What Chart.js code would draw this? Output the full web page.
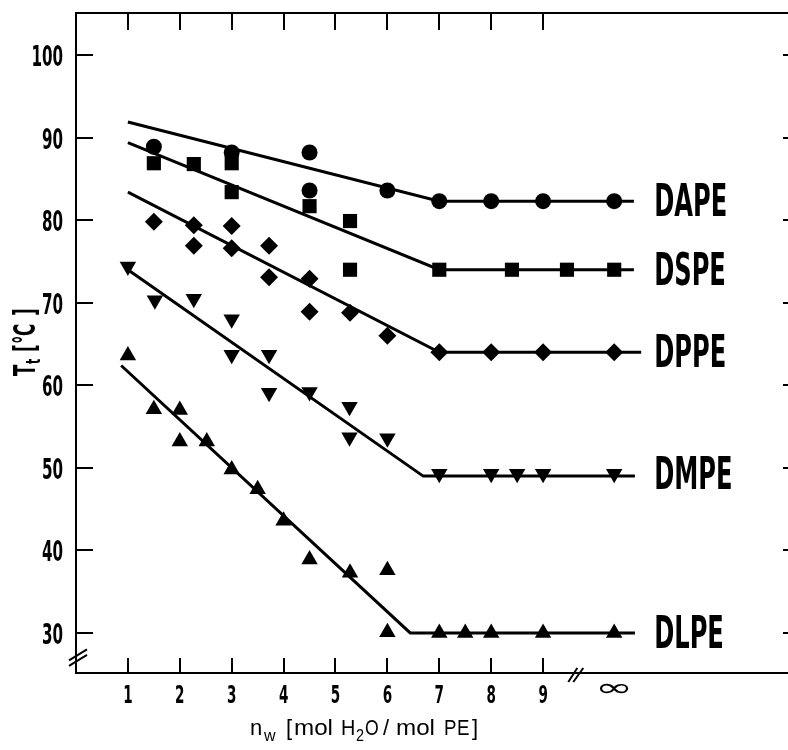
<!DOCTYPE html>
<html>
<head>
<meta charset="utf-8">
<script src="https://cdn.jsdelivr.net/npm/chart.js@4.4.0/dist/chart.umd.min.js"></script>
<style>
  html, body { margin: 0; padding: 0; overflow: hidden; background: #fff; }
  /* the original figure is cropped on the right: its right frame sits just past the edge */
  #wrap { width: 788px; height: 750px; overflow: hidden; }
</style>
</head>
<body>
<div id="wrap"><canvas id="chart" width="804" height="750"></canvas></div>
<script>
// tick positions
const X_TICKS = [1, 2, 3, 4, 5, 6, 7, 8, 9];
const Y_TICKS = [30, 40, 50, 60, 70, 80, 90, 100];
const INF = 10.37;          // where the "infinity" column sits
const X_BREAK = 9.63;       // axis break between 9 and infinity
const Y_BREAK = 26.9;       // axis break below 30

const dapeX = [1.5, 3, 4.5, 4.5, 6, 7, 8, 9, INF];
const dapeY = [88.9, 88.2, 88.2, 83.6, 83.6, 82.3, 82.3, 82.3, 82.3];
const dapeFitX = [1, 7, 10.75];
const dapeFitY = [91.9, 82.3, 82.3];

const dspeX = [1.5, 2.27, 3, 3, 4.5, 5.28, 5.28, 7, 8.4, 9.46, INF];
const dspeY = [86.9, 86.8, 86.9, 83.4, 81.7, 79.9, 74.0, 74.0, 74.0, 74.0, 74.0];
const dspeFitX = [1, 7, 10.75];
const dspeFitY = [89.4, 74.0, 74.0];

const dppeX = [1.5, 2.27, 2.27, 3, 3, 3.72, 3.72, 4.5, 4.5, 5.28, 6, 7, 8, 9, INF];
const dppeY = [79.8, 79.4, 76.9, 79.3, 76.6, 76.9, 73.1, 72.9, 68.9, 68.8, 66.0, 64.0, 64.0, 64.0, 64.0];
const dppeFitX = [1, 7, 10.89];
const dppeFitY = [83.4, 64.0, 64.0];

const dmpeX = [1, 1.52, 2.27, 3, 3, 3.72, 3.72, 4.5, 5.27, 5.27, 6, 7, 8, 8.5, 9, INF];
const dmpeY = [74.4, 70.3, 70.5, 68.0, 63.7, 63.7, 59.1, 59.2, 57.4, 53.7, 53.6, 49.3, 49.3, 49.3, 49.3, 49.3];
const dmpeFitX = [1, 6.69, 10.77];
const dmpeFitY = [74.0, 49.0, 49.0];

const dlpeX = [1, 1.5, 2, 2, 2.52, 3, 3.5, 4, 4.5, 5.28, 6, 6, 7, 7.5, 8, 9, INF];
const dlpeY = [63.6, 57.1, 57.0, 53.2, 53.2, 49.8, 47.4, 43.6, 38.9, 37.3, 37.6, 30.1, 30.0, 30.0, 30.0, 30.0, 30.0];
const dlpeFitX = [0.87, 6.44, 10.77];
const dlpeFitY = [62.4, 30.0, 30.0];

const LABEL_X = 11.14;   // left edge of the series names

const series = [
    { name: 'DAPE', x: dapeX, y: dapeY, fx: dapeFitX, fy: dapeFitY, style: 'circle', r: 8, rot: 0 },
    { name: 'DSPE', x: dspeX, y: dspeY, fx: dspeFitX, fy: dspeFitY, style: 'rect', r: 10, rot: 0 },
    { name: 'DPPE', x: dppeX, y: dppeY, fx: dppeFitX, fy: dppeFitY, style: 'rectRot', r: 9, rot: 0 },
    { name: 'DMPE', x: dmpeX, y: dmpeY, fx: dmpeFitX, fy: dmpeFitY, style: 'triangle', r: 9.5, rot: 180 },
    { name: 'DLPE', x: dlpeX, y: dlpeY, fx: dlpeFitX, fy: dlpeFitY, style: 'triangle', r: 9.5, rot: 0 }
];

const zip = (xs, ys) => xs.map((v, i) => ({ x: v, y: ys[i] }));

const datasets = [];
series.forEach(s => {
    datasets.push({
        label: s.name,
        data: zip(s.x, s.y),
        showLine: false,
        pointStyle: s.style,
        pointRadius: s.r,
        rotation: s.rot,
        backgroundColor: '#000',
        borderColor: '#000',
        borderWidth: 0
    });
});
series.forEach(s => {
    datasets.push({
        label: s.name + ' fit',
        data: zip(s.fx, s.fy),
        showLine: true,
        pointRadius: 0,
        borderColor: '#000',
        borderWidth: 3,
        tension: 0
    });
});

const NARROW = '"Liberation Sans Narrow", "DejaVu Sans Condensed", "Liberation Sans", sans-serif';
const PLAIN = '"Liberation Sans", Arial, sans-serif';
let K = 0.72; // horizontal squeeze for the condensed DIN look

function squeezed(ctx, str, x, y, font, k, align) {
    ctx.save();
    ctx.font = font;
    const w = ctx.measureText(str).width * k;
    let left = x;
    if (align === 'center') left = x - w / 2;
    else if (align === 'right') left = x - w;
    ctx.translate(left, y);
    ctx.scale(k, 1);
    ctx.textAlign = 'left';
    ctx.textBaseline = 'alphabetic';
    ctx.fillStyle = '#000';
    ctx.fillText(str, 0, 0);
    ctx.restore();
}

const decorations = {
    id: 'decorations',
    afterDraw(chart) {
        const ctx = chart.ctx;
        const xs = chart.scales.x, ys = chart.scales.y;
        ctx.save();
        ctx.font = 'bold 44.7px ' + NARROW;
        K = 73 / ctx.measureText('DAPE').width;
        ctx.restore();

        // tick labels
        Y_TICKS.forEach(v => squeezed(ctx, String(v), xs.left - 13, ys.getPixelForValue(v) + 11, 'bold 28px ' + NARROW, K, 'right'));
        X_TICKS.forEach(v => squeezed(ctx, String(v), xs.getPixelForValue(v), 703, 'bold 25px ' + NARROW, K, 'center'));

        // infinity, fitted into its box
        ctx.save();
        ctx.font = '30px "DejaVu Sans", sans-serif';
        const m = ctx.measureText('∞');
        const gw = m.actualBoundingBoxLeft + m.actualBoundingBoxRight;
        const gh = m.actualBoundingBoxAscent + m.actualBoundingBoxDescent;
        ctx.translate(xs.getPixelForValue(INF), 688);
        ctx.scale(29 / gw, 10 / gh);
        ctx.textBaseline = 'alphabetic';
        ctx.fillStyle = '#000';
        ctx.fillText('∞', -(m.actualBoundingBoxRight - m.actualBoundingBoxLeft) / 2,
            (m.actualBoundingBoxAscent - m.actualBoundingBoxDescent) / 2);
        ctx.restore();

        // series names
        series.forEach(s => {
            const yv = s.y[s.y.length - 1];
            squeezed(ctx, s.name, xs.getPixelForValue(LABEL_X), ys.getPixelForValue(yv) + 15, 'bold 44.7px ' + NARROW, K, 'left');
        });

        // x axis title: n_w [mol H2O / mol PE]
        const big = '22px ' + PLAIN, sub = '16px ' + PLAIN;
        const xt = [
            ['n', 250, 735, big, 1], ['w', 264, 741, sub, 1], ['[', 286, 735, big, 1],
            ['mol', 294, 735, big, 1.1],
            ['H', 341, 735, big, 0.9], ['2', 356, 741, sub, 0.9], ['O', 365, 735, big, 0.8],
            ['/', 383, 735, big, 1],
            ['mol', 396, 735, big, 1.1],
            ['P', 444, 735, big, 0.85], ['E', 457, 735, big, 0.85], [']', 472, 735, big, 1]
        ];
        xt.forEach(t => squeezed(ctx, t[0], t[1], t[2], t[3], t[4], 'left'));

        // y axis title: T_t [°C], rotated
        ctx.save();
        ctx.translate(35, 376);
        ctx.rotate(-Math.PI / 2);
        const yb = 'bold 31px ' + NARROW, ys2 = 'bold 20px ' + NARROW;
        const yt = [['T', 0, 0, yb], ['t', 12, 5, ys2], ['[', 24, 0, yb], ['°', 32, 0, yb], ['C', 40, 0, yb], [']', 60, 0, yb]];
        yt.forEach(t => squeezed(ctx, t[0], t[1], t[2], t[3], K, 'left'));
        ctx.restore();

        // axis breaks
        ctx.save();
        ctx.strokeStyle = '#000';
        ctx.lineWidth = 2;
        const bx = xs.getPixelForValue(X_BREAK), by = ys.bottom;
        [[-7.5, 1.5], [-2.5, 7.5]].forEach(([a, b]) => {
            ctx.beginPath();
            ctx.moveTo(bx + a, by + 9);
            ctx.lineTo(bx + b, by - 5);
            ctx.stroke();
        });
        const ax = xs.left, ay = ys.getPixelForValue(Y_BREAK);
        [-2.75, 2.75].forEach(o => {
            ctx.beginPath();
            ctx.moveTo(ax - 7, ay + o + 4.5);
            ctx.lineTo(ax + 11, ay + o - 6.5);
            ctx.stroke();
        });
        ctx.restore();
    }
};

const axisBase = (pos, min, max, ticks, len) => ({
    type: 'linear',
    position: pos,
    min: min,
    max: max,
    afterBuildTicks: s => { s.ticks = ticks.map(v => ({ value: v })); },
    afterFit: s => {
        if (pos === 'top' || pos === 'bottom') s.height = 0; else s.width = 0;
    },
    ticks: { display: false },
    grid: {
        display: true,
        drawOnChartArea: false,
        drawTicks: true,
        tickLength: -len,
        color: '#000',
        lineWidth: 2
    },
    border: { display: true, color: '#000', width: 2 }
});

new Chart(document.getElementById('chart').getContext('2d'), {
    type: 'scatter',
    data: { datasets: datasets },
    options: {
        responsive: false,
        animation: false,
        layout: { autoPadding: false, padding: { left: 76, right: 4, top: 13, bottom: 77 } },
        plugins: { legend: { display: false }, tooltip: { enabled: false } },
        scales: {
            x: axisBase('bottom', 0, 13.95, X_TICKS, 15),
            x2: axisBase('top', 0, 13.95, X_TICKS, 17),
            y: axisBase('left', 25.15, 105.1, Y_TICKS, 17),
            y2: axisBase('right', 25.15, 105.1, Y_TICKS, 17)
        }
    },
    plugins: [decorations]
});
</script>
</body>
</html>
